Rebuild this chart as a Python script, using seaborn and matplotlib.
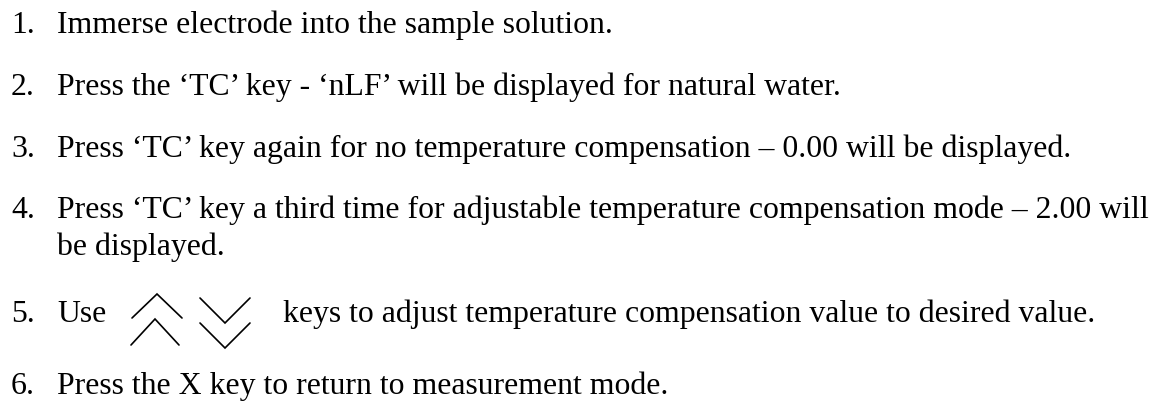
import numpy as np
import matplotlib
matplotlib.use("Agg")
import matplotlib.pyplot as plt
import seaborn as sns

sns.set_theme(style="white")
plt.rcParams['font.family'] = ['Liberation Serif', 'DejaVu Serif']

# text content of the instruction list
numbers = ["1.", "2.", "3.", "4.", "", "5.", "6."]
lines = [
    "Immerse electrode into the sample solution.",
    "Press the \u2018TC\u2019 key - \u2018nLF\u2019 will be displayed for natural water.",
    "Press \u2018TC\u2019 key again for no temperature compensation \u2013 0.00 will be displayed.",
    "Press \u2018TC\u2019 key a third time for adjustable temperature compensation mode \u2013 2.00 will",
    "be displayed.",
    "Use",
    "Press the X key to return to measurement mode.",
]
baselines = [33, 95, 157, 218, 255, 322, 394]
line5_rest = "keys to adjust temperature compensation value to desired value."

fig = plt.figure(figsize=(11.68, 4.01), dpi=100)
ax = fig.add_axes([0, 0, 1, 1])
ax.set_xlim(0, 1168)
ax.set_ylim(401, 0)
ax.axis("off")

fs = 22.9
for num, txt, y in zip(numbers, lines, baselines):
    if num:
        ax.text(11, y, num, fontsize=fs, va="baseline", ha="left", color="black")
    ax.text(57, y, txt, fontsize=fs, va="baseline", ha="left", color="black")

ax.text(283, baselines[5], line5_rest, fontsize=fs, va="baseline", ha="left", color="black")

# up / down chevron key symbols
def chevron(cx, top, w, h, up=True):
    xs = np.array([cx - w / 2, cx, cx + w / 2])
    if up:
        ys = np.array([top + h, top, top + h])
    else:
        ys = np.array([top, top + h, top])
    ax.plot(xs, ys, color="black", lw=1.2, solid_joinstyle="miter")

chevron(157, 294, 50, 24, up=True)
chevron(155, 319, 48, 26, up=True)
chevron(225, 298, 50, 25, up=False)
chevron(225, 323, 50, 25, up=False)

fig.savefig("out.png", dpi=100, facecolor="white")
